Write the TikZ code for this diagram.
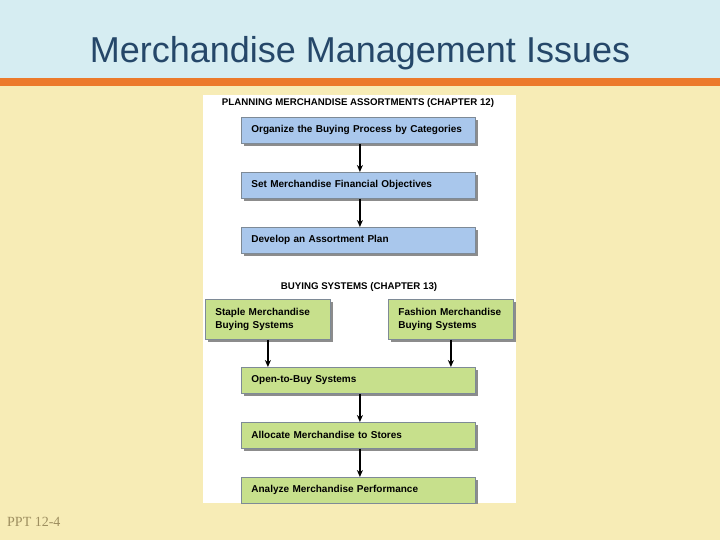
\documentclass[tikz,border=0pt]{standalone}
\usepackage{fontspec}
\setmainfont{Liberation Sans}
\newfontfamily\serifff{Liberation Serif}
\usetikzlibrary{arrows.meta,shadows}
\definecolor{topblue}{HTML}{D6EDF2}
\definecolor{bandorange}{HTML}{EC7A2C}
\definecolor{tan}{HTML}{F7ECB6}
\definecolor{titleblue}{HTML}{254769}
\definecolor{boxblue}{HTML}{A9C7EC}
\definecolor{boxgreen}{HTML}{C7E08C}
\definecolor{boxline}{HTML}{7E8A96}
\definecolor{pptc}{HTML}{9E8F60}
\tikzset{
  box/.style={draw=boxline, line width=0.8pt, minimum width=234pt, minimum height=26pt,
    text width=214pt, align=left, inner xsep=10pt, anchor=north west,
    font=\fontsize{10}{11}\selectfont\bfseries,
    drop shadow={shadow xshift=2.5pt, shadow yshift=-2.5pt, fill=black!45, opacity=1}},
  bluebox/.style={box, fill=boxblue},
  greenbox/.style={box, fill=boxgreen},
  sidebox/.style={greenbox, minimum width=125pt, minimum height=40pt, text width=105pt,
    font=\fontsize{10}{12.5}\selectfont\bfseries},
  head/.style={font=\fontsize{9.7}{11}\selectfont\bfseries, inner sep=0pt},
  arr/.style={-{Stealth[length=7pt,width=6pt]}, line width=1.5pt, black},
}
\begin{document}
\begin{tikzpicture}[x=1pt,y=-1pt]
\useasboundingbox (0,0) rectangle (720,540);
\fill[tan] (0,0) rectangle (720,540);
\fill[topblue] (0,0) rectangle (720,78);
\fill[bandorange] (0,78) rectangle (720,86);
\node[titleblue, font=\fontsize{36}{40}\selectfont, inner sep=0pt] (title) at (360,53) {Merchandise Management Issues};
\node[pptc, font=\fontsize{14}{16}\selectfont\serifff, anchor=west, inner sep=0pt] (ppt) at (7,522) {PPT 12-4};
\fill[white] (203,95) rectangle (516,503);
\begin{scope}
\clip (203,95) rectangle (516,503);
\node[head] (h1) at (358,102.5) {PLANNING MERCHANDISE ASSORTMENTS (CHAPTER 12)};
\node[bluebox] (b1) at (241,117) {Organize the Buying Process by Categories};
\node[bluebox] (b2) at (241,172) {Set Merchandise Financial Objectives};
\node[bluebox] (b3) at (241,227) {Develop an Assortment Plan};
\node[head] (h2) at (359,286.5) {BUYING SYSTEMS (CHAPTER 13)};
\node[sidebox] (st) at (205,299) {Staple Merchandise\\Buying Systems};
\node[sidebox] (fa) at (388,299) {Fashion Merchandise\\Buying Systems};
\node[greenbox] (op) at (241,367) {Open-to-Buy Systems};
\node[greenbox] (al) at (241,422) {Allocate Merchandise to Stores};
\node[greenbox] (an) at (241,477) {Analyze Merchandise Performance};
\draw[arr] ([xshift=1.5pt]b1.south) -- ([xshift=1.5pt]b2.north);
\draw[arr] ([xshift=1.5pt]b2.south) -- ([xshift=1.5pt]b3.north);
\draw[arr] (st.south) -- (st.south |- op.north);
\draw[arr] (fa.south) -- (fa.south |- op.north);
\draw[arr] ([xshift=1.5pt]op.south) -- ([xshift=1.5pt]al.north);
\draw[arr] ([xshift=1.5pt]al.south) -- ([xshift=1.5pt]an.north);
\end{scope}
\end{tikzpicture}
\end{document}
